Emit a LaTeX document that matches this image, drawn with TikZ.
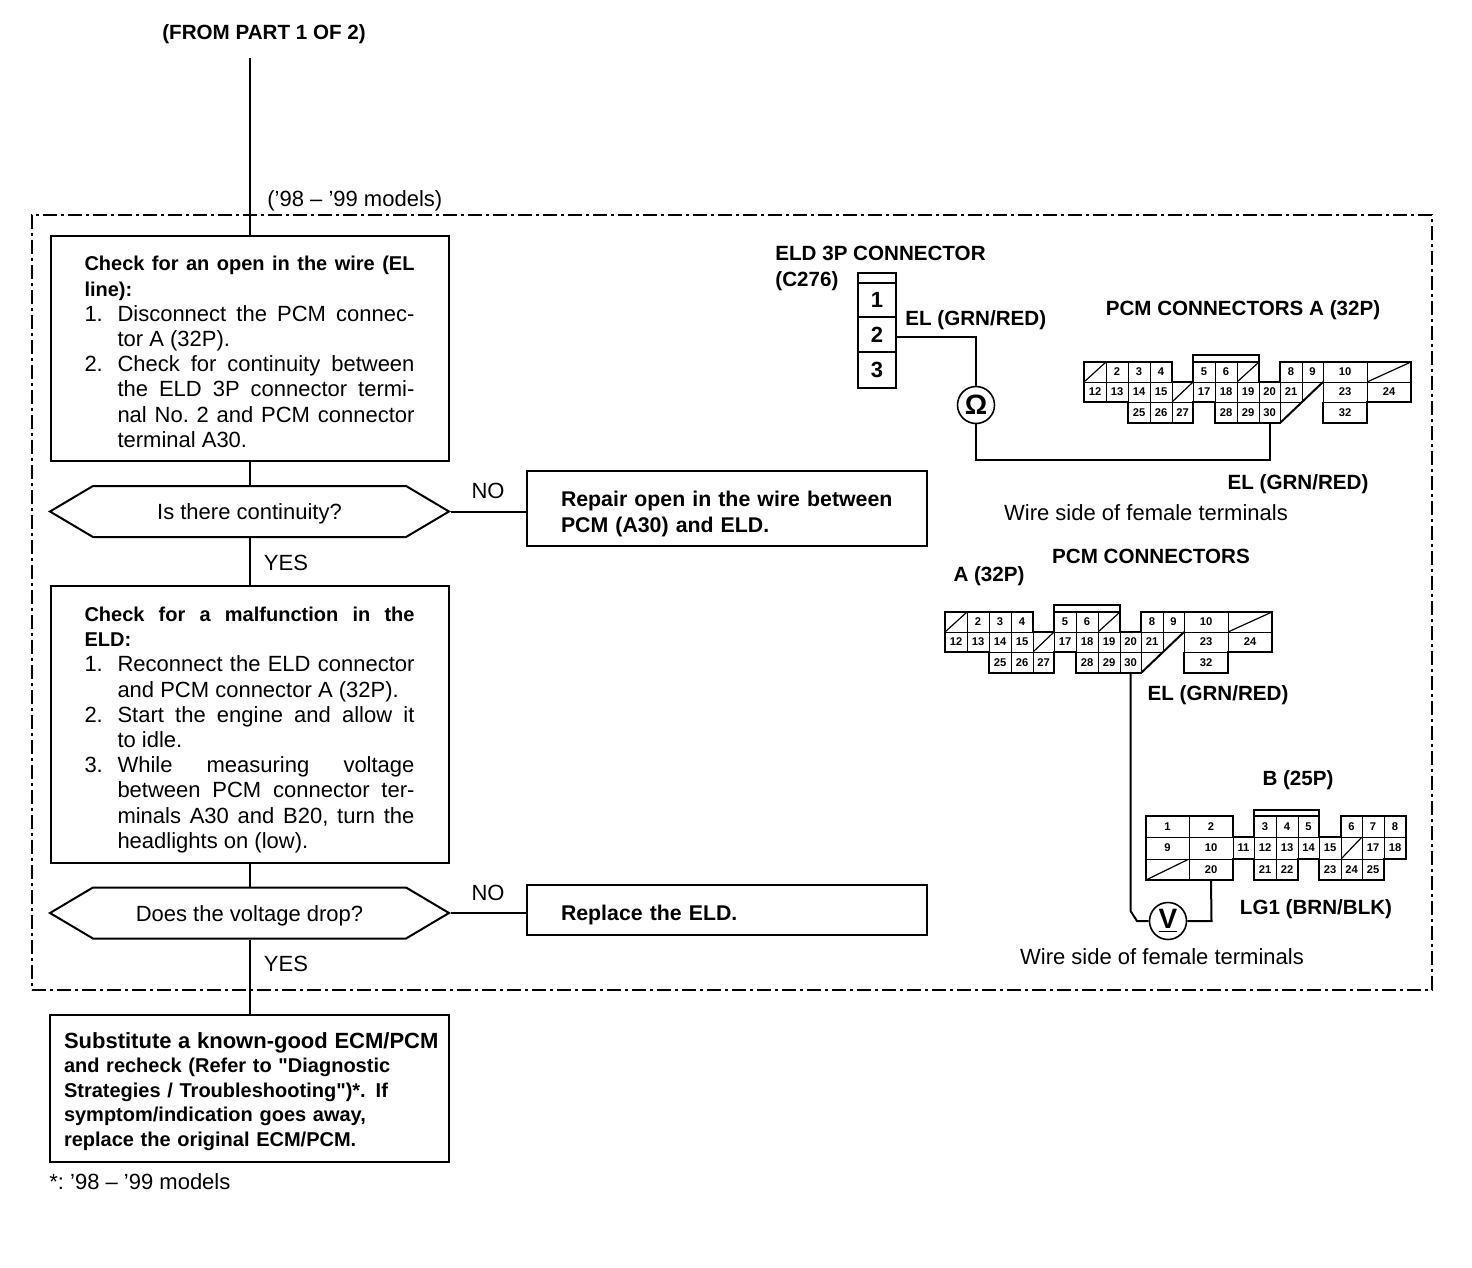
\documentclass[tikz,border=0pt]{standalone}
\usepackage{fontspec}
\setmainfont{Liberation Sans}
\newfontfamily\rawfont{Liberation Sans}
\usetikzlibrary{positioning,shapes.symbols}
\definecolor{ink}{RGB}{0,0,0}

\newcommand{\bodyfont}{\fontsize{11}{12.6}\selectfont\frenchspacing}
\newcommand{\headfont}{\fontsize{10}{12.6}\selectfont\bfseries}
\newcommand{\pinfont}{\fontsize{5.6}{6}\selectfont\bfseries}
\newcommand{\liststep}[2]{\par\hangindent=16.5pt\hangafter=1
  \makebox[16.5pt][l]{#1}#2\par}
\newcommand{\straightq}{{\rawfont"}}
\newcommand{\topnudge}[1]{\rule{0pt}{#1}}

\tikzset{
  flowbox/.style={draw=ink,line width=1pt,inner ysep=0pt,inner xsep=17pt,
    text width=165pt,align=justify,font=\bodyfont},
  sidebox/.style={draw=ink,line width=1pt,minimum width=200pt,inner xsep=17pt,
    text width=166pt,align=left,font=\fontsize{10.65}{12.6}\selectfont\bfseries},
  question/.style={draw=ink,line width=1pt,signal,signal to=east and west,
    signal pointer angle=61.4,minimum width=199.5pt,minimum height=25.5pt,
    inner sep=0pt,font=\bodyfont},
  pincell/.style={draw=ink,line width=.35pt,inner sep=0pt,outer sep=0pt,font=\pinfont},
  slashcell/.style={pincell,path picture={\draw[ink,line width=.6pt]
    (path picture bounding box.south west) -- (path picture bounding box.north east);}},
  shell/.style={draw=ink,line width=1pt,line join=miter},
  wire/.style={draw=ink,line width=1pt},
  meter/.style={draw=ink,circle,line width=.8pt,minimum size=18.5pt,inner sep=0pt,
    fill=white,font=\fontsize{14}{14}\selectfont\bfseries},
  tag/.style={inner sep=0pt,yshift=-1pt,font=\fontsize{10.3}{12}\selectfont\bfseries},
  note/.style={inner sep=0pt,font=\bodyfont},
}

% one row of a connector: x from/x to/number
\newcommand{\pinrow}[4]{%
  \foreach \xa/\xb/\num in {#4}{
    \node[pincell,minimum width={(\xb-\xa)*.5pt},minimum height={(#3-#2)*.5pt}]
      (#1\num) at ({(\xa+\xb)/2},{(#2+#3)/2}) {\num};
  }}
\newcommand{\pinslash}[4]{%
  \foreach \xa/\xb in {#4}{
    \node[slashcell,minimum width={(\xb-\xa)*.5pt},minimum height={(#3-#2)*.5pt}]
      (#1s\xa) at ({(\xa+\xb)/2},{(#2+#3)/2}) {};
  }}

\newcommand{\pcmA}[3]{%
  \begin{scope}[shift={(#2,#3)}]
    \pinslash{#1}{0}{20}{0/22,153/175,283/327}
    \pinrow{#1}{0}{20}{22/44/2,44/66/3,66/88/4,109/131/5,131/153/6,196/218/8,218/239/9,239/283/10}
    \pinrow{#1}{20}{40}{0/22/12,22/44/13,44/66/14,66/88/15,109/131/17,131/153/18,153/175/19,175/196/20,196/218/21,239/283/23,283/327/24}
    \pinslash{#1}{20}{40}{88/109}
    \pinrow{#1}{40}{61}{44/66/25,66/88/26,88/109/27,131/153/28,153/175/29,175/196/30,239/283/32}
    \draw[shell] (196,61) -- (131,61) -- (131,40) -- (109,40) -- (109,61) -- (44,61)
      -- (44,40) -- (0,40) -- (0,0) -- (88,0) -- (88,20) -- (109,20) -- (109,-7)
      -- (175,-7) -- (175,20) -- (196,20) -- (196,0) -- (327,0) -- (327,40) -- (283,40)
      -- (283,61) -- (239,61) -- (239,40);
    \draw[shell] (196,61) -- (239,20);
    \draw[shell] (109,0) -- (175,0);
  \end{scope}}

\begin{document}
\begin{tikzpicture}[x=.5pt,y=-.5pt]
  \useasboundingbox (0,0) rectangle (1472,1268);

  \node[draw=ink,line width=.8pt,dash pattern=on 7pt off 2pt on 1.5pt off 2pt,
    minimum width=700pt,minimum height=387.5pt,inner sep=0pt] (frame) at (732,602.5) {};

  % flow column
  \node[tag] (from) at (264,32) {(FROM PART 1 OF 2)};
  \coordinate (fromend) at (249.5,58);
  \node[note,anchor=west] (models) at (267,201) {('98 -- '99 models)};

  \node[flowbox,minimum height=112.5pt] (check) at (249.5,348.5) {%
    {\headfont\topnudge{10.8pt}Check for an open in the wire (EL\linebreak line):\par}
    \liststep{1.}{Disconnect the PCM connec-\linebreak tor A (32P).}
    \liststep{2.}{Check for continuity between\linebreak the ELD 3P connector termi-\linebreak
      nal No. 2 and PCM connector\linebreak terminal A30.}};
  \node[question] (cont) at (249.5,511.5) {\topnudge{10.5pt}Is there continuity?};
  \node[flowbox,minimum height=138.5pt] (elda) at (249.5,724.5) {%
    {\headfont\topnudge{12.7pt}Check for a malfunction in the\linebreak ELD:\par}
    \liststep{1.}{Reconnect the ELD connector\linebreak and PCM connector A (32P).}
    \liststep{2.}{Start the engine and allow it\linebreak to idle.}
    \liststep{3.}{While measuring voltage\linebreak between PCM connector ter-\linebreak
      minals A30 and B20, turn the\linebreak headlights on (low).}};
  \node[question] (drop) at (249.5,913) {\topnudge{10.5pt}Does the voltage drop?};
  \node[draw=ink,line width=1pt,minimum width=199.5pt,minimum height=73.5pt,
    inner xsep=7pt,text width=185.5pt,align=left,
    font=\fontsize{10}{12.2}\selectfont\bfseries] (subst) at (249.5,1088.5) {%
    \topnudge{11pt}\makebox[185.5pt][l]{\fontsize{11}{12.2}\selectfont Substitute a known-good ECM/PCM}\\
    and recheck (Refer to \straightq Diagnostic\\
    Strategies / Troubleshooting\straightq)*. If\\
    symptom/indication goes away,\\
    replace the original ECM/PCM.};
  \node[note,anchor=west] (star) at (49,1182) {*: '98 -- '99 models};

  \node[sidebox,minimum height=37.5pt] (repair) at (727,508.5) {%
    \topnudge{13.2pt}Repair open in the wire between\\ PCM (A30) and ELD.};
  \node[sidebox,minimum height=25pt] (replace) at (727,910) {\topnudge{13.2pt}Replace the ELD.};
  \node[note] (no1) at (488,491) {NO};
  \node[note] (yes1) at (286,563) {YES};
  \node[note] (no2) at (488,893) {NO};
  \node[note] (yes2) at (286,964) {YES};

  \draw[wire] (fromend) -- (check.north);
  \draw[wire] (check.south) -- (cont.north);
  \draw[wire] (cont.south) -- (elda.north);
  \draw[wire] (elda.south) -- (drop.north);
  \draw[wire] (drop.south) -- (subst.north);
  \draw[wire] (cont.east) -- (cont.east -| repair.west);
  \draw[wire] (drop.east) -- (drop.east -| replace.west);

  % ELD connector
  \node[tag,anchor=west] (eldname) at (775,251) {ELD 3P CONNECTOR};
  \node[tag,anchor=west] (eldcode) at (775,279) {(C276)};
  \foreach \num/\ya/\yb/\txt in {0/273/283/,1/283/317/1,2/317/352/2,3/352/388/3}{
    \node[draw=ink,line width=1pt,minimum width=19pt,minimum height={(\yb-\ya)*.5pt},
      inner sep=0pt,font=\fontsize{11}{11}\selectfont\bfseries]
      (eld\num) at (877,{(\ya+\yb)/2}) {\txt};
  }
  \node[tag,anchor=west] (eldwire) at (905,318) {EL (GRN/RED)};
  \node[meter] (ohm) at (976,405) {Ω};
  \coordinate (ohmturn) at (1269.5,460);

  % upper PCM connector
  \node[tag] (pcmname) at (1243,308) {PCM CONNECTORS A (32P)};
  \pcmA{pa}{1084}{362}
  \node[tag] (elwire) at (1298,482) {EL (GRN/RED)};
  \node[note] (wireside) at (1146,513) {Wire side of female terminals};

  \draw[wire] ([yshift=-1pt]eld2.east) -| (ohm.north);
  \draw[wire] (ohm.south) |- (ohmturn) -- (pa30.south);

  % lower PCM connectors
  \node[tag] (pcmboth) at (1151,554) {PCM CONNECTORS};
  \node[tag] (aname) at (989,574) {A (32P)};
  \pcmA{qa}{945}{612}
  \node[tag] (elwiretwo) at (1218,693) {EL (GRN/RED)};
  \node[tag] (bname) at (1298,778) {B (25P)};

  \begin{scope}[shift={(1146,816)}]
    \pinrow{qb}{0}{21}{0/43/1,43/87/2,108/130/3,130/152/4,152/173/5,195/216/6,216/238/7,238/260/8}
    \pinrow{qb}{21}{43}{0/43/9,43/87/10,87/108/11,108/130/12,130/152/13,152/173/14,173/195/15,216/238/17,238/260/18}
    \pinslash{qb}{21}{43}{195/216}
    \pinslash{qb}{43}{64}{0/43}
    \pinrow{qb}{43}{64}{43/87/20,108/130/21,130/152/22,173/195/23,195/216/24,216/238/25}
    \draw[shell] (0,0) -- (87,0) -- (87,21) -- (108,21) -- (108,-6) -- (173,-6) -- (173,21)
      -- (195,21) -- (195,0) -- (260,0) -- (260,43) -- (238,43) -- (238,64) -- (173,64)
      -- (173,43) -- (152,43) -- (152,64) -- (108,64) -- (108,43) -- (87,43) -- (87,64)
      -- (0,64) -- cycle;
    \draw[shell] (108,0) -- (173,0);
  \end{scope}

  \node[meter] (volt) at (1168,921) {\underline{V}};
  \coordinate (voltdown) at (1130.5,911);
  \coordinate (voltin) at (1137,921);
  \coordinate (voltup) at (1211.5,921);
  \node[tag] (lgwire) at (1316,907) {LG1 (BRN/BLK)};
  \node[note] (wiresidetwo) at (1162,957) {Wire side of female terminals};

  \draw[wire] (qa30.south) -- (voltdown) -- (voltin) -- (volt.west);
  \draw[wire] (volt.east) -- (voltup) -- (qb20.south);
\end{tikzpicture}
\end{document}
